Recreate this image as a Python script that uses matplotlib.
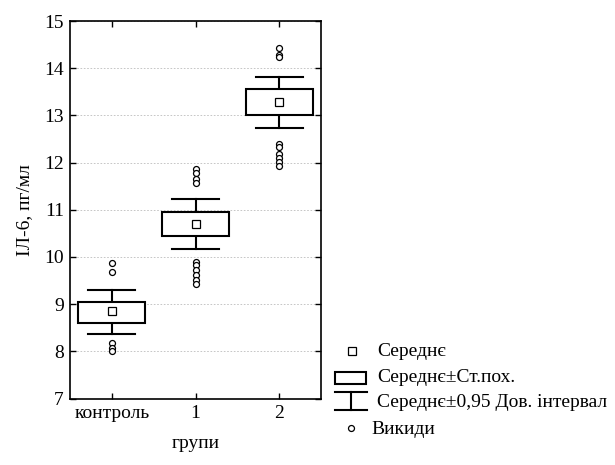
import matplotlib.pyplot as plt
from matplotlib.lines import Line2D
from matplotlib.patches import Rectangle

plt.rcParams['font.family'] = ['Liberation Serif', 'DejaVu Serif']

# дані
groups = ['контроль', '1', '2']
means = [8.86, 10.70, 13.28]
se_low = [8.60, 10.44, 13.00]
se_high = [9.05, 10.96, 13.55]
ci_low = [8.36, 10.16, 12.73]
ci_high = [9.30, 11.23, 13.81]
outliers = [
    [9.87, 9.68, 8.17, 8.06, 8.00],
    [11.86, 11.77, 11.65, 11.56, 9.90, 9.83, 9.73, 9.62, 9.51, 9.43],
    [14.43, 14.28, 14.24, 12.39, 12.33, 12.18, 12.10, 12.02, 11.93],
]
yticks = [7, 8, 9, 10, 11, 12, 13, 14, 15]

fig = plt.figure(figsize=(6.15, 4.65), dpi=100)
ax = fig.add_axes([70 / 615, 1 - 398.5 / 465, 251 / 615, 377.5 / 465])

box_w = 0.40
cap_w = 0.28
lw = 1.5
for i in range(len(groups)):
    # вуса (довірчий інтервал)
    ax.plot([i, i], [ci_low[i], se_low[i]], color='black', lw=lw, zorder=3)
    ax.plot([i, i], [se_high[i], ci_high[i]], color='black', lw=lw, zorder=3)
    ax.plot([i - cap_w, i + cap_w], [ci_low[i], ci_low[i]], color='black', lw=lw, zorder=3)
    ax.plot([i - cap_w, i + cap_w], [ci_high[i], ci_high[i]], color='black', lw=lw, zorder=3)
    # коробка (ст. похибка)
    ax.add_patch(Rectangle((i - box_w, se_low[i]), 2 * box_w, se_high[i] - se_low[i],
                           facecolor='white', edgecolor='black', lw=lw, zorder=3))
    # середнє
    ax.plot(i, means[i], 's', mfc='white', mec='black', ms=5.5, mew=0.9, zorder=4)
    # викиди
    ax.plot([i] * len(outliers[i]), outliers[i], 'o', mfc='white', mec='black',
            ms=4.3, mew=0.9, zorder=4)

fs = 14
ax.set_xlim(-0.5, 2.5)
ax.set_ylim(7, 15)
ax.set_yticks(yticks)
ax.set_xticks(range(len(groups)))
ax.set_xticklabels(groups)
ax.yaxis.grid(True, color='#bdbdbd', linestyle=(0, (2, 2)), lw=0.6)
ax.set_axisbelow(True)
ax.tick_params(direction='in', top=True, right=True, labelsize=fs, length=4, width=1)
ax.tick_params(axis='x', pad=5)
ax.tick_params(axis='y', pad=4.5)
for s in ax.spines.values():
    s.set_linewidth(1.2)
ax.set_ylabel('ІЛ-6, пг/мл', fontsize=fs, labelpad=8)
ax.set_xlabel('групи', fontsize=fs, labelpad=9)


# легенда поза осями (координати фігури в пікселях)
def fx(x):
    return x / 615


def fy(y):
    return 1 - y / 465


fig.add_artist(Line2D([fx(352)], [fy(351)], marker='s', mfc='white', mec='black', ms=5.5, mew=0.9))
fig.text(fx(377), fy(352), 'Середнє', fontsize=fs, va='center')
fig.add_artist(Rectangle((fx(335), fy(384)), 31 / 615, 12 / 465, transform=fig.transFigure,
                         facecolor='white', edgecolor='black', lw=lw))
fig.text(fx(377), fy(377), 'Середнє±Ст.пох.', fontsize=fs, va='center')
fig.add_artist(Line2D([fx(335), fx(367)], [fy(392), fy(392)], color='black', lw=lw))
fig.add_artist(Line2D([fx(351), fx(351)], [fy(392), fy(410)], color='black', lw=lw))
fig.add_artist(Line2D([fx(335), fx(367)], [fy(410), fy(410)], color='black', lw=lw))
fig.text(fx(377), fy(402), 'Середнє±0,95 Дов. інтервал', fontsize=fs, va='center')
fig.add_artist(Line2D([fx(351)], [fy(428)], marker='o', mfc='white', mec='black', ms=4.3, mew=0.9))
fig.text(fx(371), fy(429), 'Викиди', fontsize=fs, va='center')

plt.savefig('out.png', dpi=100)
